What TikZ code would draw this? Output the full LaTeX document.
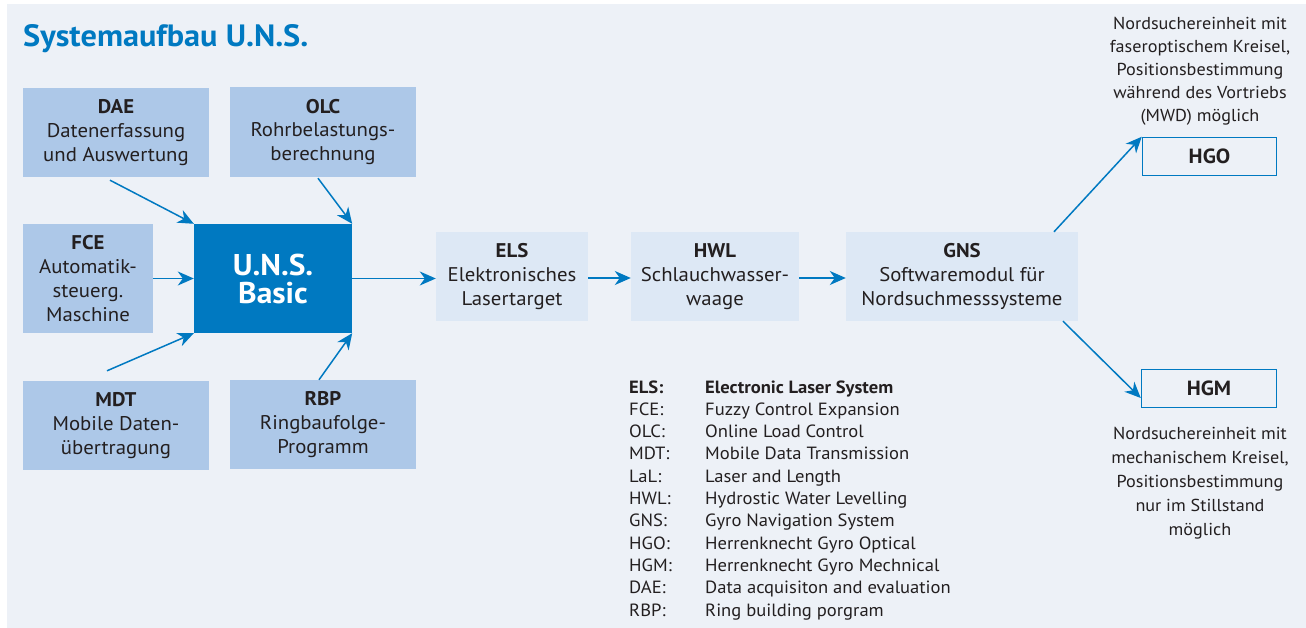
\documentclass[tikz,border=0pt]{standalone}
\usepackage{fontspec}
\setmainfont{PT Sans}[FakeStretch=1.05]
\usetikzlibrary{arrows.meta}
\definecolor{bg}{HTML}{EDF1F7}
\definecolor{boxdark}{HTML}{ADC8E8}
\definecolor{boxlight}{HTML}{DDE8F5}
\definecolor{ublue}{HTML}{0079C1}
\definecolor{txt}{HTML}{231F20}
\begin{document}
\begin{tikzpicture}[x=1pt,y=-1pt,
 box/.style={rectangle, inner sep=0pt, align=center, text=txt, font=\fontsize{19.8}{23.8}\selectfont},
 dbox/.style={box, fill=boxdark},
 lbox/.style={box, fill=boxlight},
 obox/.style={box, fill=bg, draw=ublue, line width=1.5pt, font=\fontsize{20.5}{23}\selectfont\bfseries},
 arr/.style={ublue, line width=1.5pt, -{Stealth[length=16pt,width=14pt,inset=5pt]}},
 side/.style={align=center, text=txt, inner sep=0pt, font=\fontsize{17.3}{23}\selectfont},
 leg/.style={anchor=base west, inner sep=0pt, text=txt, font=\fontsize{17.7}{20}\selectfont}]
\useasboundingbox (0,0) rectangle (1306,628);
\fill[bg] (7,4) rectangle (1306,628);

\node[anchor=base west, inner sep=0pt, text=ublue, font=\fontsize{30.8}{36}\selectfont\bfseries] (title) at (23,47) {Systemaufbau U.N.S.};

\node[dbox, minimum width=186pt, minimum height=89pt] (dae) at (116,132.5) {\textbf{DAE}\\Datenerfassung\\und Auswertung};
\node[dbox, minimum width=186pt, minimum height=90pt] (olc) at (323,132) {\textbf{OLC}\\Rohrbelastungs-\\berechnung};
\node[dbox, minimum width=130pt, minimum height=109pt] (fce) at (88,278.5) {\textbf{FCE}\\Automatik-\\steuerg.\\Maschine};
\node[box, fill=ublue, text=white, minimum width=158pt, minimum height=109pt, font=\fontsize{30}{28}\selectfont\bfseries] (uns) at (273,278.5) {U.N.S.\\Basic};
\node[dbox, minimum width=186pt, minimum height=89pt] (mdt) at (116,425.5) {\textbf{MDT}\\Mobile Daten-\\übertragung};
\node[dbox, minimum width=186pt, minimum height=89pt] (rbp) at (323,424.5) {\textbf{RBP}\\Ringbaufolge-\\Programm};
\node[lbox, minimum width=152pt, minimum height=89pt] (els) at (512,276.5) {\textbf{ELS}\\Elektronisches\\Lasertarget};
\node[lbox, minimum width=168pt, minimum height=89pt] (hwl) at (715,276.5) {\textbf{HWL}\\Schlauchwasser-\\waage};
\node[lbox, minimum width=232pt, minimum height=89pt] (gns) at (962,276.5) {\textbf{GNS}\\Softwaremodul für\\Nordsuchmesssysteme};
\node[obox, minimum width=134pt, minimum height=38pt] (hgo) at (1209.5,156.5) {HGO};
\node[obox, minimum width=135pt, minimum height=38pt] (hgm) at (1209,388.5) {HGM};

\node[side, anchor=north] (hgotxt) at (1200,17) {Nordsuchereinheit mit\\faseroptischem Kreisel,\\Positionsbestimmung\\während des Vortriebs\\(MWD) möglich};
\node[side, anchor=north, font=\fontsize{17.3}{24}\selectfont] (hgmtxt) at (1200,427) {Nordsuchereinheit mit\\mechanischem Kreisel,\\Positionsbestimmung\\nur im Stillstand\\möglich};

\draw[arr] ([xshift=-6pt,yshift=-3pt]dae.south) -- (uns.north west);
\draw[arr] ([xshift=-5pt,yshift=-1pt]olc.south) -- (uns.north east);
\draw[arr] (fce.east) -- (uns.west);
\draw[arr] ([xshift=-9pt,yshift=10pt]mdt.north) -- (uns.south west);
\draw[arr] ([xshift=-4pt]rbp.north) -- (uns.south east);
\draw[arr] (uns.east) -- (uns.east -| els.west);
\draw[arr] ([yshift=-1.5pt]els.east) -- ([yshift=-1.5pt]hwl.west);
\draw[arr] ([yshift=-1.5pt]hwl.east) -- ([yshift=-1.5pt]gns.west);
\draw[arr] ([xshift=92pt]gns.north) -- (hgo.north west);
\draw[arr] ([xshift=101pt]gns.south) -- ([yshift=-9.5pt]hgm.west);

\node[leg, font=\fontsize{17.7}{20}\selectfont\bfseries] (la0) at (629,393) {ELS:};
\node[leg, font=\fontsize{17.7}{20}\selectfont\bfseries] (lb0) at (705,393) {Electronic Laser System};
\foreach \a/\b [count=\i from 1] in {FCE:/Fuzzy Control Expansion, OLC:/Online Load Control, MDT:/Mobile Data Transmission, LaL:/Laser and Length, HWL:/Hydrostic Water Levelling, GNS:/Gyro Navigation System, HGO:/Herrenknecht Gyro Optical, HGM:/Herrenknecht Gyro Mechnical, DAE:/Data acquisiton and evaluation, RBP:/Ring building porgram}{
  \node[leg] (la\i) at (629,393+22.3*\i) {\a};
  \node[leg] (lb\i) at (705,393+22.3*\i) {\b};
}
\end{tikzpicture}
\end{document}
